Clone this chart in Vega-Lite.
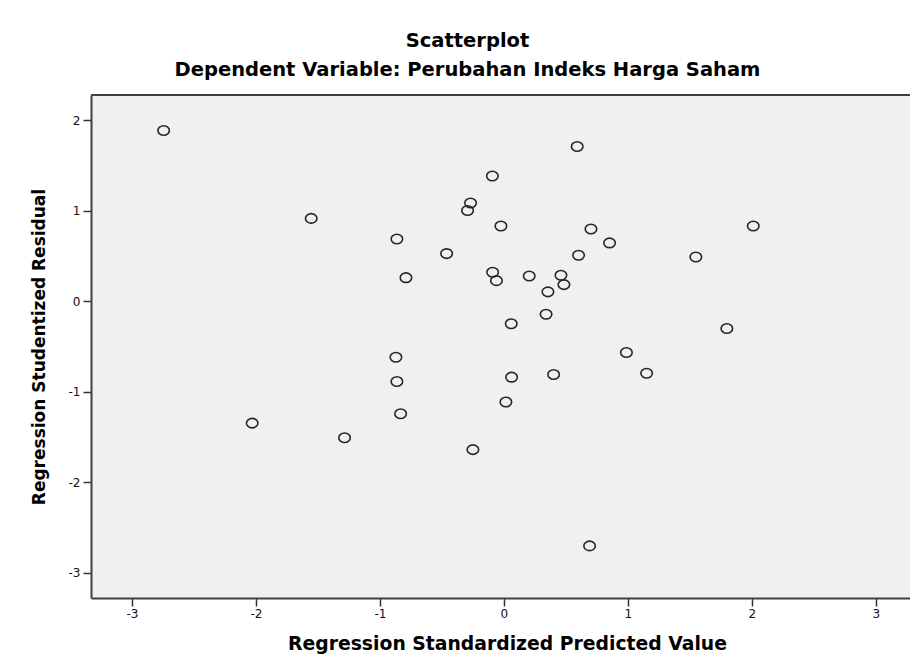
{
  "$schema": "https://vega.github.io/schema/vega-lite/v6.json",
  "autosize": "none",
  "width": 819,
  "height": 503,
  "padding": {"left": 91, "top": 95, "right": 0, "bottom": 63},
  "background": "white",
  "title": {
    "text": "Scatterplot",
    "subtitle": "Dependent Variable: Perubahan Indeks Harga Saham",
    "anchor": "middle",
    "frame": "group",
    "dx": -33,
    "offset": 14,
    "font": "DejaVu Sans",
    "fontSize": 19.5,
    "fontWeight": "bold",
    "color": "#000000",
    "subtitleFont": "DejaVu Sans",
    "subtitleFontSize": 19.5,
    "subtitleFontWeight": "bold",
    "subtitleColor": "#000000",
    "subtitlePadding": 9
  },
  "config": {
    "view": {"fill": "#f0f0f0", "stroke": null},
    "axis": {"grid": false}
  },
  "data": {
    "values": [
      {"pred": -2.744, "resid": 1.887},
      {"pred": -0.093, "resid": 1.385},
      {"pred": -0.269, "resid": 1.086},
      {"pred": -0.293, "resid": 1.004},
      {"pred": -1.554, "resid": 0.916},
      {"pred": -0.024, "resid": 0.832},
      {"pred": -0.863, "resid": 0.688},
      {"pred": -0.462, "resid": 0.527},
      {"pred": -0.790, "resid": 0.261},
      {"pred": -0.091, "resid": 0.320},
      {"pred": -0.060, "resid": 0.228},
      {"pred": 0.591, "resid": 1.711},
      {"pred": 0.702, "resid": 0.799},
      {"pred": 2.011, "resid": 0.832},
      {"pred": 0.852, "resid": 0.645},
      {"pred": 0.602, "resid": 0.508},
      {"pred": 1.548, "resid": 0.490},
      {"pred": 0.204, "resid": 0.280},
      {"pred": 0.460, "resid": 0.287},
      {"pred": 0.484, "resid": 0.184},
      {"pred": 0.355, "resid": 0.104},
      {"pred": 0.340, "resid": -0.143},
      {"pred": 0.059, "resid": -0.249},
      {"pred": 1.798, "resid": -0.301},
      {"pred": 0.988, "resid": -0.566},
      {"pred": -0.871, "resid": -0.618},
      {"pred": -0.863, "resid": -0.887},
      {"pred": -0.833, "resid": -1.243},
      {"pred": -2.030, "resid": -1.347},
      {"pred": -1.285, "resid": -1.508},
      {"pred": -0.250, "resid": -1.640},
      {"pred": 0.062, "resid": -0.839},
      {"pred": 0.401, "resid": -0.809},
      {"pred": 1.151, "resid": -0.795},
      {"pred": 0.016, "resid": -1.114},
      {"pred": 0.691, "resid": -2.704}
    ]
  },
  "layer": [
    {
      "mark": {"type": "rule", "color": "#404040", "strokeWidth": 2},
      "encoding": {
        "y": {"datum": 2.28, "type": "quantitative", "scale": {"domain": [-3.28, 2.28]}}
      }
    },
    {
      "mark": {
        "type": "point",
        "shape": "M -1.15 0 A 1.15 0.95 0 1 0 1.15 0 A 1.15 0.95 0 1 0 -1.15 0 Z",
        "filled": false,
        "stroke": "#262626",
        "strokeWidth": 1.6,
        "size": 100,
        "opacity": 1
      },
      "encoding": {
        "x": {
          "field": "pred",
          "type": "quantitative",
          "scale": {"domain": [-3.33, 3.275], "nice": false, "zero": false},
          "axis": {
            "values": [-3, -2, -1, 0, 1, 2, 3],
            "labelExpr": "'' + datum.value",
            "title": "Regression Standardized Predicted Value",
            "titleFont": "DejaVu Sans",
            "titleFontSize": 18.8,
            "titleFontWeight": "bold",
            "titleColor": "#000000",
            "titlePadding": 15,
            "titleX": 416,
            "labelFont": "DejaVu Sans",
            "labelFontSize": 12,
            "labelColor": "#111111",
            "labelPadding": 2,
            "tickSize": 8,
            "tickColor": "#333333",
            "tickWidth": 1.5,
            "domainColor": "#404040",
            "domainWidth": 2
          }
        },
        "y": {
          "field": "resid",
          "type": "quantitative",
          "scale": {"domain": [-3.28, 2.28], "nice": false, "zero": false},
          "axis": {
            "values": [-3, -2, -1, 0, 1, 2],
            "labelExpr": "'' + datum.value",
            "title": "Regression Studentized Residual",
            "titleFont": "DejaVu Sans",
            "titleFontSize": 17,
            "titleFontWeight": "bold",
            "titleColor": "#000000",
            "titlePadding": 20,
            "labelFont": "DejaVu Sans",
            "labelFontSize": 12,
            "labelColor": "#111111",
            "labelPadding": 3,
            "tickSize": 8,
            "tickColor": "#333333",
            "tickWidth": 1.5,
            "domainColor": "#404040",
            "domainWidth": 2
          }
        }
      }
    }
  ]
}
